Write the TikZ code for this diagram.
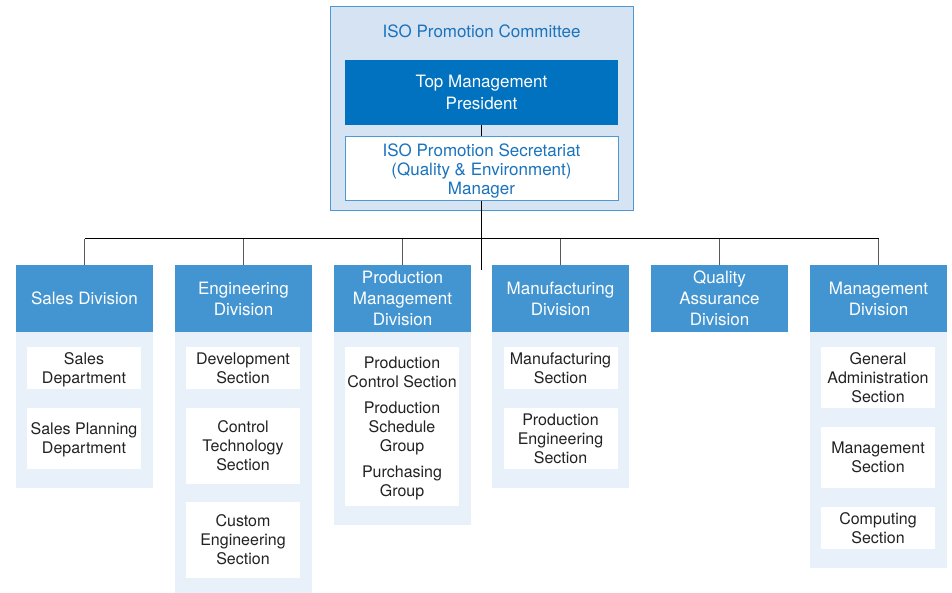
\documentclass[tikz,border=0pt]{standalone}
\usepackage{fontspec}
\setmainfont{TeX Gyre Heros}
\usepackage{tikz}
\usetikzlibrary{positioning}

\definecolor{isoblue}{HTML}{1A73BD}
\definecolor{committeefill}{HTML}{D6E3F3}
\definecolor{committeeline}{HTML}{4A9AD8}
\definecolor{topblue}{HTML}{0072BF}
\definecolor{headblue}{HTML}{4395D1}
\definecolor{bodyfill}{HTML}{E8F0FA}
\definecolor{sectext}{HTML}{222222}

\begin{document}
\begin{tikzpicture}[
        x=1pt, y=-1pt,
        committee/.style={rectangle, draw=committeeline, fill=committeefill, line width=1pt, minimum width=303pt, minimum height=204pt, inner sep=0pt},
        title/.style={text=isoblue, font={\fontsize{17}{20}\selectfont}},
        topbox/.style={rectangle, fill=topblue, text=white, align=center, minimum width=273pt, minimum height=65pt, inner sep=0pt, font={\fontsize{17}{22}\selectfont}},
        secbox/.style={rectangle, draw=committeeline, fill=white, text=isoblue, align=center, line width=1pt, minimum width=273pt, minimum height=64pt, inner sep=0pt, text depth=-2pt, font={\fontsize{17}{19}\selectfont}},
        division/.style={rectangle, fill=headblue, text=white, align=center, minimum width=137pt, minimum height=67pt, inner sep=0pt, font={\fontsize{17}{21}\selectfont}},
        body/.style={rectangle, fill=bodyfill, minimum width=137pt, inner sep=0pt},
        section/.style={rectangle, fill=white, text=sectext, align=center, minimum width=114pt, inner sep=0pt, text depth=-2pt, font={\fontsize{16}{19}\selectfont}},
        bar/.style={line width=1pt, black},
        drop/.style={line width=1pt, black!65},
    ]
        \useasboundingbox (0,0) rectangle (952,593);

        % committee and top of the chart
        \node[committee] (committee) at (481.5,109) {};
        \node[title] (committeetitle) at (481.5,31) {ISO Promotion Committee};
        \node[topbox] (top) at (481.5,92.5) {Top Management\\President};
        \node[secbox] (secretariat) at (481.5,169) {ISO Promotion Secretariat\\(Quality \& Environment)\\Manager};

        % division headers
        \node[division] (sales) at (84.5,298.5) {Sales Division};
        \node[division] (engineering) at (243.5,298.5) {Engineering\\Division};
        \node[division] (production) at (402.5,298.5) {Production\\Management\\Division};
        \node[division] (manufacturing) at (560.5,298.5) {Manufacturing\\Division};
        \node[division] (quality) at (719.5,298.5) {Quality\\Assurance\\Division};
        \node[division] (management) at (878.5,298.5) {Management\\Division};

        % division bodies
        \node[body, minimum height=156pt] (sales_body) at (84.5,410) {};
        \node[body, minimum height=261pt] (engineering_body) at (243.5,462.5) {};
        \node[body, minimum height=193pt] (production_body) at (402.5,428.5) {};
        \node[body, minimum height=156pt] (manufacturing_body) at (560.5,410) {};
        \node[body, minimum height=236pt] (management_body) at (878.5,450) {};

        % sections
        \node[section, minimum height=42pt] (sales_dept) at (84,368) {Sales\\Department};
        \node[section, minimum height=61pt] (sales_plan) at (84,438.5) {Sales Planning\\Department};

        \node[section, minimum height=42pt] (eng_dev) at (243,368) {Development\\Section};
        \node[section, minimum height=76pt] (eng_ctrl) at (243,446) {Control\\Technology\\Section};
        \node[section, minimum height=76pt] (eng_custom) at (243,540) {Custom\\Engineering\\Section};

        \node[section, minimum height=159pt] (prod_groups) at (402,426.5) {Production\\Control Section\\[7pt]Production\\Schedule\\Group\\[7pt]Purchasing\\Group};

        \node[section, minimum height=42pt] (man_sec) at (560.5,368) {Manufacturing\\Section};
        \node[section, minimum height=61pt] (man_eng) at (560.5,438.5) {Production\\Engineering\\Section};

        \node[section, minimum height=61pt] (mgmt_admin) at (878,377.5) {General\\Administration\\Section};
        \node[section, minimum height=61pt] (mgmt_sec) at (878,457.5) {Management\\Section};
        \node[section, minimum height=42pt] (mgmt_comp) at (878,528) {Computing\\Section};

        % connectors
        \coordinate (branch) at (481.5,239);
        \coordinate (trunk) at (481.5,270);
        \draw[bar] (top) -- (secretariat);
        \draw[bar] (secretariat) -- (trunk);
        \draw[bar] (sales.north |- branch) -- (management.north |- branch);
        \draw[drop] (sales.north) -- (sales.north |- branch);
        \draw[drop] (engineering.north) -- (engineering.north |- branch);
        \draw[drop] (production.north) -- (production.north |- branch);
        \draw[drop] (manufacturing.north) -- (manufacturing.north |- branch);
        \draw[drop] (quality.north) -- (quality.north |- branch);
        \draw[drop] (management.north) -- (management.north |- branch);
    \end{tikzpicture}
\end{document}
